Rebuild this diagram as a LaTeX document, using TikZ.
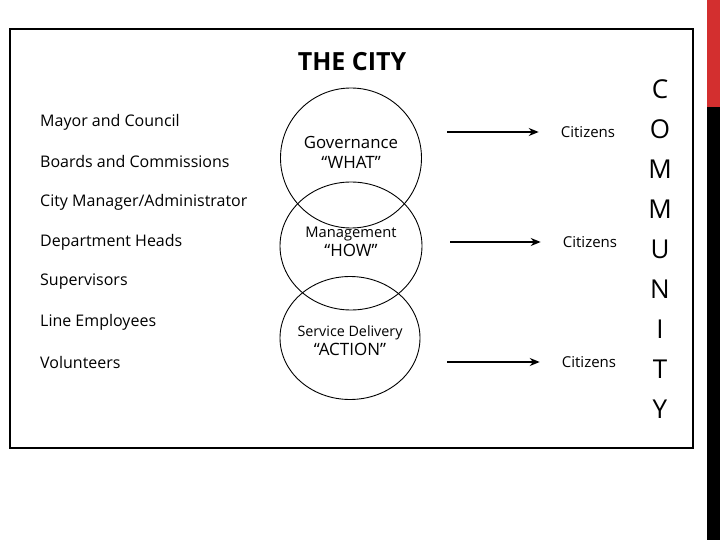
\documentclass[tikz,border=0pt]{standalone}
\usepackage{fontspec}
\setmainfont{Open Sans}
\usetikzlibrary{arrows.meta,positioning,shapes.geometric}
\definecolor{slideRed}{RGB}{211,47,47}
\tikzset{
    every node/.append style={align=center},
    role/.style={anchor=west,inner sep=0pt,font=\fontsize{16}{18}\selectfont},
    ring/.style={ellipse,draw=black,line width=0.9pt,inner sep=0pt},
    ringtxt/.style={inner sep=0pt,font=\fontsize{17}{19.5}\selectfont},
    cit/.style={inner sep=0pt,font=\fontsize{15}{17}\selectfont},
    arr/.style={-{Stealth[length=10pt,width=8pt]},line width=1.4pt,shorten >=22pt}
}
\begin{document}
\begin{tikzpicture}[x=1pt,y=-1pt]
    \useasboundingbox (0,0) rectangle (720,540);
    % slide edge
    \fill[slideRed] (707,0) rectangle (720,107);
    \fill[black] (707,107) rectangle (720,540);
    \draw[line width=1.2pt] (10,29) rectangle (693,448);

    \node[inner sep=0pt,font=\fontsize{25}{28}\selectfont\bfseries] (title) at (352,62) {THE CITY};

    % roles
    \node[role] (mayor) at (40,122) {Mayor and Council};
    \node[role] (boards) at (40,162) {Boards and Commissions};
    \node[role] (manager) at (40,202) {City Manager/Administrator};
    \node[role] (heads) at (40,242) {Department Heads};
    \node[role] (super) at (40,282) {Supervisors};
    \node[role] (line) at (40,322) {Line Employees};
    \node[role] (vol) at (40,362) {Volunteers};

    % circles
    \node[ring,minimum width=141pt,minimum height=140pt] (gov) at (351,158) {};
    \node[ring,minimum width=142pt,minimum height=128pt] (mgmt) at (351,246) {};
    \node[ring,minimum width=140pt,minimum height=123pt] (serv) at (350,338) {};
    \node[ringtxt] (govtxt) at (351,152.5) {{\fontsize{16.8}{19.5}\selectfont Governance}\\“WHAT”};
    \node[ringtxt] (mgmttxt) at (351,242) {{\fontsize{14.7}{19.5}\selectfont Management}\\“HOW”};
    \node[ringtxt] (servtxt) at (350,340.5) {{\fontsize{14.3}{19.5}\selectfont Service Delivery}\\“ACTION”};

    % citizens
    \node[cit] (cit1) at (588,132) {Citizens};
    \node[cit] (cit2) at (590,242) {Citizens};
    \node[cit] (cit3) at (589,362) {Citizens};
    \coordinate (a1) at (447,132);
    \coordinate (a2) at (450,242);
    \coordinate (a3) at (447,362);
    \draw[arr] (a1) -- (cit1);
    \draw[arr] (a2) -- (cit2);
    \draw[arr] (a3) -- (cit3);

    \node[inner sep=0pt,font=\fontsize{26}{40.1}\selectfont] (community) at (660,249)
        {C\\O\\M\\M\\U\\N\\I\\T\\Y};
\end{tikzpicture}
\end{document}
